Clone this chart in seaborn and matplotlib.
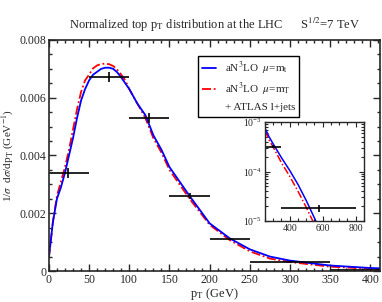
import numpy as np
import pandas as pd
import seaborn as sns
import matplotlib.pyplot as plt
from matplotlib.lines import Line2D
from matplotlib.ticker import MultipleLocator, LogLocator, NullFormatter

# theory curves
pt = [0, 5, 10, 15, 20, 25, 30, 35, 40, 45, 50, 55, 60, 65, 70, 75, 80, 85, 90, 95,
      100, 110, 120, 130, 140, 150, 175, 200, 225, 250, 275, 300, 350, 400, 450,
      500, 550, 600, 700, 850]
blue = [0.00049, 0.0017, 0.0025, 0.0029, 0.0034, 0.0040, 0.0046, 0.0053, 0.0059, 0.0063,
        0.0066, 0.0068, 0.0069, 0.00700, 0.00704, 0.00704, 0.0070, 0.00688, 0.0067, 0.0065,
        0.0063, 0.0058, 0.0054, 0.0047, 0.0042, 0.0036, 0.0026, 0.00165, 0.00113, 0.00075,
        0.00050, 0.00036, 0.00019, 0.000105, 5.5e-5, 2.6e-5, 1.15e-5, 5e-6, 1e-6, 1e-7]
red = [0.00045, 0.0017, 0.0026, 0.0031, 0.0036, 0.0042, 0.0049, 0.0056, 0.0062, 0.0066,
       0.0068, 0.00702, 0.00712, 0.00717, 0.00718, 0.00716, 0.0071, 0.00697, 0.0068, 0.0066,
       0.0063, 0.0058, 0.0053, 0.0046, 0.0041, 0.0035, 0.0025, 0.0016, 0.00107, 0.00068,
       0.00043, 0.00031, 0.00015, 8e-5, 4e-5, 1.9e-5, 8.5e-6, 4e-6, 7e-7, 5e-8]

# ATLAS l+jets data
bin_lo = [0, 50, 100, 150, 200, 250, 350]
bin_hi = [50, 100, 150, 200, 250, 350, 800]
data_x = [24, 75, 125, 175, 225, 300, 575]
data_y = [0.0034, 0.00671, 0.0053, 0.0026, 0.00111, 0.00032, 1.85e-5]
data_err = [0.00017, 0.00018, 0.00018, 0.0001, 0.00005, 0.00002, 3e-6]

df = pd.DataFrame({'pt': pt + pt, 'val': blue + red,
                   'scale': ['mt'] * len(pt) + ['mT'] * len(pt)})

sns.set_style("ticks")
plt.rcParams['font.family'] = ['Liberation Serif', 'DejaVu Serif']
plt.rcParams['mathtext.fontset'] = 'stix'
plt.rcParams['xtick.direction'] = 'in'
plt.rcParams['ytick.direction'] = 'in'

fig = plt.figure(figsize=(3.82, 3.02), dpi=100)
ax = fig.add_axes([0.128, 0.1026, 0.867, 0.765])

dashdot = (0, (5, 1.5, 1, 1.5))


def draw(ax, lw=1.3):
    sns.lineplot(data=df[df.scale == 'mT'], x='pt', y='val', color='red', lw=lw,
                 linestyle=dashdot, ax=ax, legend=False)
    sns.lineplot(data=df[df.scale == 'mt'], x='pt', y='val', color='blue', lw=lw,
                 ax=ax, legend=False)
    xerr = [np.array(data_x) - np.array(bin_lo), np.array(bin_hi) - np.array(data_x)]
    ax.errorbar(data_x, data_y, xerr=xerr, yerr=data_err, fmt='none',
                ecolor='black', elinewidth=1.2, capsize=0)


draw(ax)
ax.set_xlim(0, 412)
ax.set_ylim(0, 0.008)
ax.xaxis.set_major_locator(MultipleLocator(50))
ax.xaxis.set_minor_locator(MultipleLocator(10))
ax.yaxis.set_major_locator(MultipleLocator(0.002))
ax.yaxis.set_minor_locator(MultipleLocator(0.0005))
ax.yaxis.set_major_formatter(plt.FuncFormatter(lambda v, p: '0' if v == 0 else f'{v:.3f}'))
ax.tick_params(which='both', top=True, right=True, labelsize=8.5, width=1, pad=2)
ax.tick_params(which='major', length=5)
ax.tick_params(which='minor', length=2.5)
for s in ax.spines.values():
    s.set_linewidth(1.2)
ax.set_xlabel(r'p$_\mathrm{T}$ (GeV)', fontsize=9, labelpad=0)
ax.set_ylabel(r'1/$\sigma$  d$\sigma$/dp$_\mathrm{T}$ (GeV$^{-1}$)', fontsize=8, labelpad=2)
ax.set_title(r'Normalized top p$_\mathrm{T}$ distribution at the LHC      S$^{1/2}$=7 TeV',
             fontsize=9, pad=8)

handles = [Line2D([], [], color='blue', lw=1.3),
           Line2D([], [], color='red', lw=1.3, linestyle=dashdot),
           Line2D([], [], linestyle='none')]
labels = [r'aN$^3$LO  $\mu$=m$_\mathrm{t}$', r'aN$^3$LO  $\mu$=m$_\mathrm{T}$', '+ ATLAS l+jets']
leg = ax.legend(handles, labels, loc='upper left', bbox_to_anchor=(0.45, 0.931),
                borderaxespad=0, fontsize=8, frameon=True, fancybox=False, framealpha=1,
                edgecolor='black', handlelength=1.2, handletextpad=0.8,
                borderpad=0.4, labelspacing=0.35)
leg.get_frame().set_linewidth(1)

# inset, log scale
ins = fig.add_axes([0.6937, 0.268, 0.259, 0.328])
draw(ins, lw=1.1)
ins.set_yscale('log')
ins.set_xlim(250, 850)
ins.set_ylim(1e-5, 1e-3)
ins.set_xlabel('')
ins.set_ylabel('')
ins.set_xticks([400, 600, 800])
ins.xaxis.set_minor_locator(MultipleLocator(50))
ins.yaxis.set_minor_locator(LogLocator(base=10, subs=np.arange(2, 10)))
ins.yaxis.set_minor_formatter(NullFormatter())
ins.tick_params(which='both', top=True, right=True, labelsize=7, width=0.8)
ins.tick_params(which='major', length=3.5, pad=2)
ins.tick_params(which='minor', length=2)
for s in ins.spines.values():
    s.set_linewidth(1)

fig.savefig('out.png', dpi=100)
